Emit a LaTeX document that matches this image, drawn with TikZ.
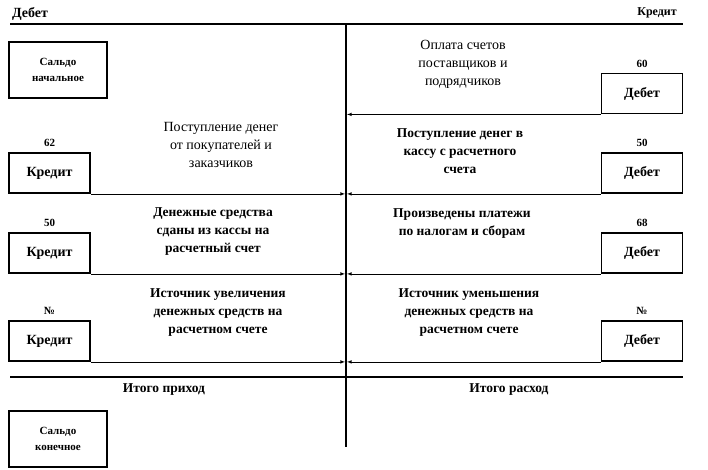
\documentclass[tikz,border=0pt]{standalone}
\usepackage{fontspec}
\setmainfont{Liberation Serif}
\begin{document}
\begin{tikzpicture}[x=1pt, y=-1pt,
  account/.style = {rectangle, draw, line width=1.8pt, minimum width=81pt, minimum height=40pt, inner sep=0pt, font=\fontsize{14}{15}\selectfont\bfseries},
  saldo/.style = {rectangle, draw, line width=1.8pt, minimum width=98pt, minimum height=56pt, inner sep=0pt, align=center, font=\fontsize{11}{16}\selectfont\bfseries},
  accno/.style = {font=\fontsize{11}{13}\selectfont\bfseries, inner sep=2pt, yshift=3pt},
  boldtext/.style = {align=center, font=\fontsize{13.5}{18}\selectfont\bfseries},
  normaltext/.style = {align=center, font=\fontsize{14}{18}\selectfont},
  header/.style = {font=\fontsize{14}{15}\selectfont\bfseries},
  rule/.style = {line width=2pt},
  flow/.style = {-latex, line width=0.6pt}]
  \useasboundingbox (0, 0) rectangle (708, 470);

  % Axis of the account.
  \coordinate (ruleTopL) at (10, 24);
  \coordinate (ruleTopR) at (683, 24);
  \coordinate (ruleBotL) at (10, 377);
  \coordinate (ruleBotR) at (683, 377);
  \coordinate (axisTop) at (346, 24);
  \coordinate (axisBot) at (346, 447);
  \draw [rule] (ruleTopL) -- (ruleTopR);
  \draw [rule] (ruleBotL) -- (ruleBotR);
  \draw [line width=1.6pt] (axisTop) -- (axisBot);
  \node at (30, 14) [header, name=Debit] {Дебет};
  \node at (657, 13) [header, font=\fontsize{12}{13}\selectfont\bfseries, name=Credit] {Кредит};

  % Balances.
  \node at (58, 70) [saldo, name=OpeningBalance] {Сальдо\\начальное};
  \node at (58, 439) [saldo, name=ClosingBalance] {Сальдо\\конечное};

  % Corresponding accounts.
  \node at (642, 93.5) [account, label={[accno]above:60}, name=Debit60] {Дебет};
  \node at (49.5, 173) [account, label={[accno]above:62}, name=Credit62] {Кредит};
  \node at (642, 173) [account, label={[accno]above:50}, name=Debit50] {Дебет};
  \node at (49.5, 253) [account, label={[accno]above:50}, name=Credit50] {Кредит};
  \node at (642, 253) [account, label={[accno]above:68}, name=Debit68] {Дебет};
  \node at (49.5, 341) [account, label={[accno]above:№}, name=CreditNo] {Кредит};
  \node at (642, 341) [account, label={[accno]above:№}, name=DebitNo] {Дебет};

  % Operations.
  \node at (463, 64) [normaltext, name=PaySuppliers] {Оплата счетов\\поставщиков и\\подрядчиков};
  \node at (221, 145) [normaltext, name=FromBuyers] {Поступление денег\\от покупателей и\\заказчиков};
  \node at (460, 151) [boldtext, name=ToCash] {Поступление денег в\\кассу с расчетного\\счета};
  \node at (213, 232) [boldtext, name=FromCash] {Денежные средства\\сданы из кассы на\\расчетный счет};
  \node at (462, 224) [boldtext, name=Taxes] {Произведены платежи\\по налогам и сборам};
  \node at (218, 313) [boldtext, name=Increase] {Источник увеличения\\денежных средств на\\расчетном счете};
  \node at (469, 313) [boldtext, name=Decrease] {Источник уменьшения\\денежных средств на\\расчетном счете};

  % Totals.
  \node at (164, 390) [boldtext, name=TotalIn] {Итого приход};
  \node at (509, 390) [boldtext, name=TotalOut] {Итого расход};

  % Flows to the axis.
  \draw [flow] (Debit60.south west) -- ([xshift=1pt] Debit60.south west -| axisTop);
  \draw [flow] (Credit62.south east) -- ([xshift=-1pt] Credit62.south east -| axisTop);
  \draw [flow] (Debit50.south west) -- ([xshift=1pt] Debit50.south west -| axisTop);
  \draw [flow] (Credit50.south east) -- ([xshift=-1pt] Credit50.south east -| axisTop);
  \draw [flow] (Debit68.south west) -- ([xshift=1pt] Debit68.south west -| axisTop);
  \draw [flow] (CreditNo.south east) -- ([xshift=-1pt] CreditNo.south east -| axisTop);
  \draw [flow] (DebitNo.south west) -- ([xshift=1pt] DebitNo.south west -| axisTop);
\end{tikzpicture}
\end{document}
